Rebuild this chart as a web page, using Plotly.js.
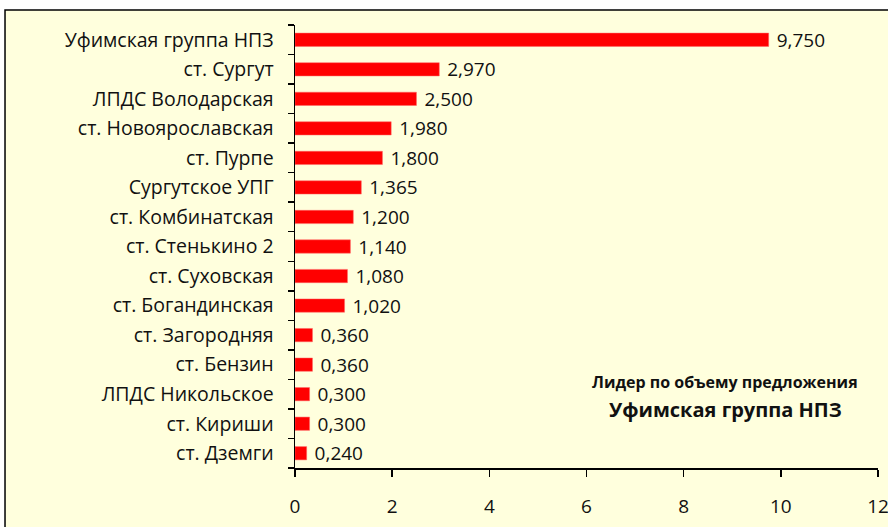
<!DOCTYPE html>
<html>
<head>
<meta charset="utf-8">
<script src="https://cdn.plot.ly/plotly-3.0.1.min.js"></script>
<style>html,body{margin:0;padding:0;background:#fff;}#chart{width:888px;height:527px;}</style>
</head>
<body>
<div id="chart"></div>
<script>
var categories = [
  "Уфимская группа НПЗ",
  "ст. Сургут",
  "ЛПДС Володарская",
  "ст. Новоярославская",
  "ст. Пурпе",
  "Сургутское УПГ",
  "ст. Комбинатская",
  "ст. Стенькино 2",
  "ст. Суховская",
  "ст. Богандинская",
  "ст. Загородняя",
  "ст. Бензин",
  "ЛПДС Никольское",
  "ст. Кириши",
  "ст. Дземги"
];
var values = [9.75, 2.97, 2.5, 1.98, 1.8, 1.365, 1.2, 1.14, 1.08, 1.02, 0.36, 0.36, 0.3, 0.3, 0.24];
var xTicks = [0, 2, 4, 6, 8, 10, 12];
var noteLine1 = "Лидер по объему предложения";
var noteLine2 = "Уфимская группа НПЗ";

var labels = values.map(function(v){ return v.toFixed(3).replace('.', ','); });
var FONT = "Open Sans, Noto Sans, DejaVu Sans, sans-serif";

var trace = {
  type: 'bar',
  orientation: 'h',
  x: values,
  y: categories,
  width: 0.45,
  marker: {color: '#FF0000', line: {color: '#FF6666', width: 0.5}},
  text: labels,
  texttemplate: '\u00a0%{text}',
  textposition: 'outside',
  constraintext: 'none',
  cliponaxis: false,
  textfont: {family: FONT, size: 19, color: '#111'},
  hoverinfo: 'x+y'
};

var layout = {
  width: 888, height: 527,
  margin: {l: 295, r: 10, t: 25, b: 59},
  paper_bgcolor: '#ffffff',
  plot_bgcolor: 'rgba(0,0,0,0)',
  showlegend: false,
  bargap: 0.55,
  xaxis: {
    range: [0, 12],
    tickvals: xTicks,
    ticktext: xTicks.map(String),
    showgrid: false,
    zeroline: false,
    showline: true,
    linecolor: '#000', linewidth: 1.5,
    ticks: 'outside', ticklen: 7, tickwidth: 1.5, tickcolor: '#000',
    ticklabelstandoff: 14,
    ticklabeloverflow: 'allow',
    tickfont: {family: FONT, size: 19, color: '#111'},
    fixedrange: true
  },
  yaxis: {
    type: 'category',
    categoryorder: 'array',
    categoryarray: categories.slice().reverse(),
    autorange: false,
    range: [-0.5, categories.length - 0.5],
    tickson: 'boundaries',
    showgrid: false,
    zeroline: false,
    showline: true,
    linecolor: '#000', linewidth: 1.5,
    ticks: 'outside', ticklen: 6, tickwidth: 1.5, tickcolor: '#000',
    ticklabelstandoff: 16,
    tickfont: {family: FONT, size: 19.5, color: '#111'},
    fixedrange: true
  },
  shapes: [{
    type: 'rect', xref: 'paper', yref: 'paper',
    x0: -0.4974, x1: 1.2, y0: -0.3, y1: 1.0339,
    fillcolor: '#FFFFDD',
    line: {color: '#000', width: 1.5},
    layer: 'below'
  }],
  annotations: [
    {xref: 'paper', yref: 'paper', x: 0.7376, y: 0.1947, text: '<b>' + noteLine1 + '</b>',
     showarrow: false, xanchor: 'center', yanchor: 'middle',
     font: {family: FONT, size: 16, color: '#111'}},
    {xref: 'paper', yref: 'paper', x: 0.7376, y: 0.1317, text: '<b>' + noteLine2 + '</b>',
     showarrow: false, xanchor: 'center', yanchor: 'middle',
     font: {family: FONT, size: 20, color: '#111'}}
  ]
};

Plotly.newPlot('chart', [trace], layout, {displayModeBar: false, staticPlot: true});
</script>
</body>
</html>
